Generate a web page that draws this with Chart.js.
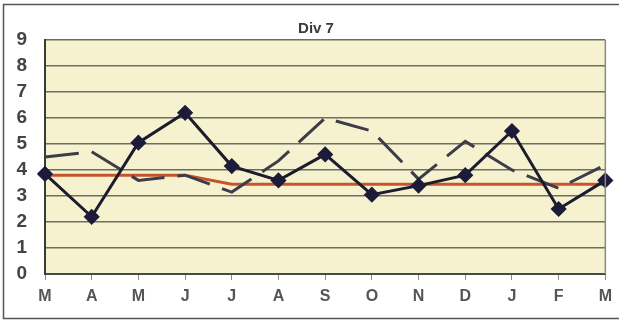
<!DOCTYPE html>
<html>
<head>
<meta charset="utf-8">
<script src="https://cdn.jsdelivr.net/npm/chart.js@4/dist/chart.umd.min.js"></script>
<style>
  html, body { margin: 0; padding: 0; background: #ffffff; }
  #wrap { width: 619px; height: 325px; position: relative; }
</style>
</head>
<body>
<div id="wrap"><canvas id="c" width="619" height="325"></canvas></div>
<script>
// Monthly values for Div 7, March through March
const months = ['M', 'A', 'M', 'J', 'J', 'A', 'S', 'O', 'N', 'D', 'J', 'F', 'M'];
const actual = [3.85, 2.2, 5.05, 6.2, 4.15, 3.6, 4.6, 3.05, 3.4, 3.8, 5.5, 2.5, 3.6];
const previous = [4.5, 4.7, 3.6, 3.8, 3.15, 4.35, 6.0, 5.5, 3.65, 5.1, 4.0, 3.3, 4.2];
const average = [3.8, 3.8, 3.8, 3.8, 3.45, 3.45, 3.45, 3.45, 3.45, 3.45, 3.45, 3.45, 3.45];
const yTicks = [0, 1, 2, 3, 4, 5, 6, 7, 8, 9];
const titleText = 'Div 7';

const FONT = '"Liberation Sans", Arial, sans-serif';

// Plot background, frame around the chart and the title
const decor = {
  id: 'decor',
  beforeDraw(chart) {
    const { ctx, chartArea: a } = chart;
    ctx.save();
    ctx.fillStyle = '#f6f2d0';
    ctx.fillRect(a.left, a.top, a.right - a.left, a.bottom - a.top);
    ctx.restore();
  },
  afterDraw(chart) {
    const { ctx, chartArea: a } = chart;
    ctx.save();
    // plot border (right edge lighter)
    ctx.strokeStyle = '#8a8a7a';
    ctx.lineWidth = 1.5;
    ctx.beginPath();
    ctx.moveTo(a.right, a.top);
    ctx.lineTo(a.right, a.bottom);
    ctx.stroke();
    // outer frame
    ctx.strokeStyle = '#555555';
    ctx.lineWidth = 1.5;
    ctx.beginPath();
    ctx.moveTo(619, 4.5);
    ctx.lineTo(3.5, 4.5);
    ctx.lineTo(3.5, 318.5);
    ctx.lineTo(619, 318.5);
    ctx.stroke();
    // title
    ctx.fillStyle = '#3a3a3a';
    ctx.font = 'bold 15px ' + FONT;
    ctx.textAlign = 'center';
    ctx.textBaseline = 'middle';
    ctx.fillText(titleText, 316, 29);
    ctx.restore();
  }
};

new Chart(document.getElementById('c'), {
  type: 'line',
  data: {
    labels: months,
    datasets: [
      {
        label: 'Average',
        data: average,
        borderColor: '#c8542e',
        borderWidth: 3,
        pointRadius: 0,
        tension: 0,
        order: 3
      },
      {
        label: 'Previous',
        data: previous,
        borderColor: '#3c3c4a',
        borderWidth: 3,
        borderDash: [34, 13],
        pointRadius: 0,
        tension: 0,
        order: 2
      },
      {
        label: 'Actual',
        data: actual,
        borderColor: '#1c1c2c',
        borderWidth: 3,
        pointStyle: 'rectRot',
        pointRadius: 6,
        pointBackgroundColor: '#1c1c3a',
        pointBorderColor: '#1c1c3a',
        tension: 0,
        order: 1
      }
    ]
  },
  options: {
    responsive: false,
    animation: false,
    layout: { padding: { top: 40, right: 13, bottom: 0, left: 0 } },
    plugins: {
      legend: { display: false },
      title: { display: false },
      tooltip: { enabled: false }
    },
    scales: {
      x: {
        offset: false,
        grid: {
          display: true,
          drawOnChartArea: false,
          drawTicks: true,
          tickLength: 6,
          color: '#8a8a80',
          lineWidth: 1
        },
        border: { display: true, color: '#4a4a44', width: 2 },
        ticks: {
          color: '#555555',
          font: { family: FONT, size: 16, weight: 'bold' },
          padding: 7,
          maxRotation: 0,
          autoSkip: false
        },
        afterFit(scale) { scale.height = 51; }
      },
      y: {
        min: 0,
        max: 9,
        afterBuildTicks(scale) { scale.ticks = yTicks.map(v => ({ value: v })); },
        grid: {
          color: '#6e6e60',
          lineWidth: 1.5,
          drawTicks: false
        },
        border: { display: true, color: '#3a3a36', width: 2 },
        ticks: {
          color: '#444444',
          font: { family: FONT, size: 19, weight: 'bold' },
          padding: 18
        },
        afterFit(scale) { scale.width = 45; }
      }
    }
  },
  plugins: [decor]
});
</script>
</body>
</html>
